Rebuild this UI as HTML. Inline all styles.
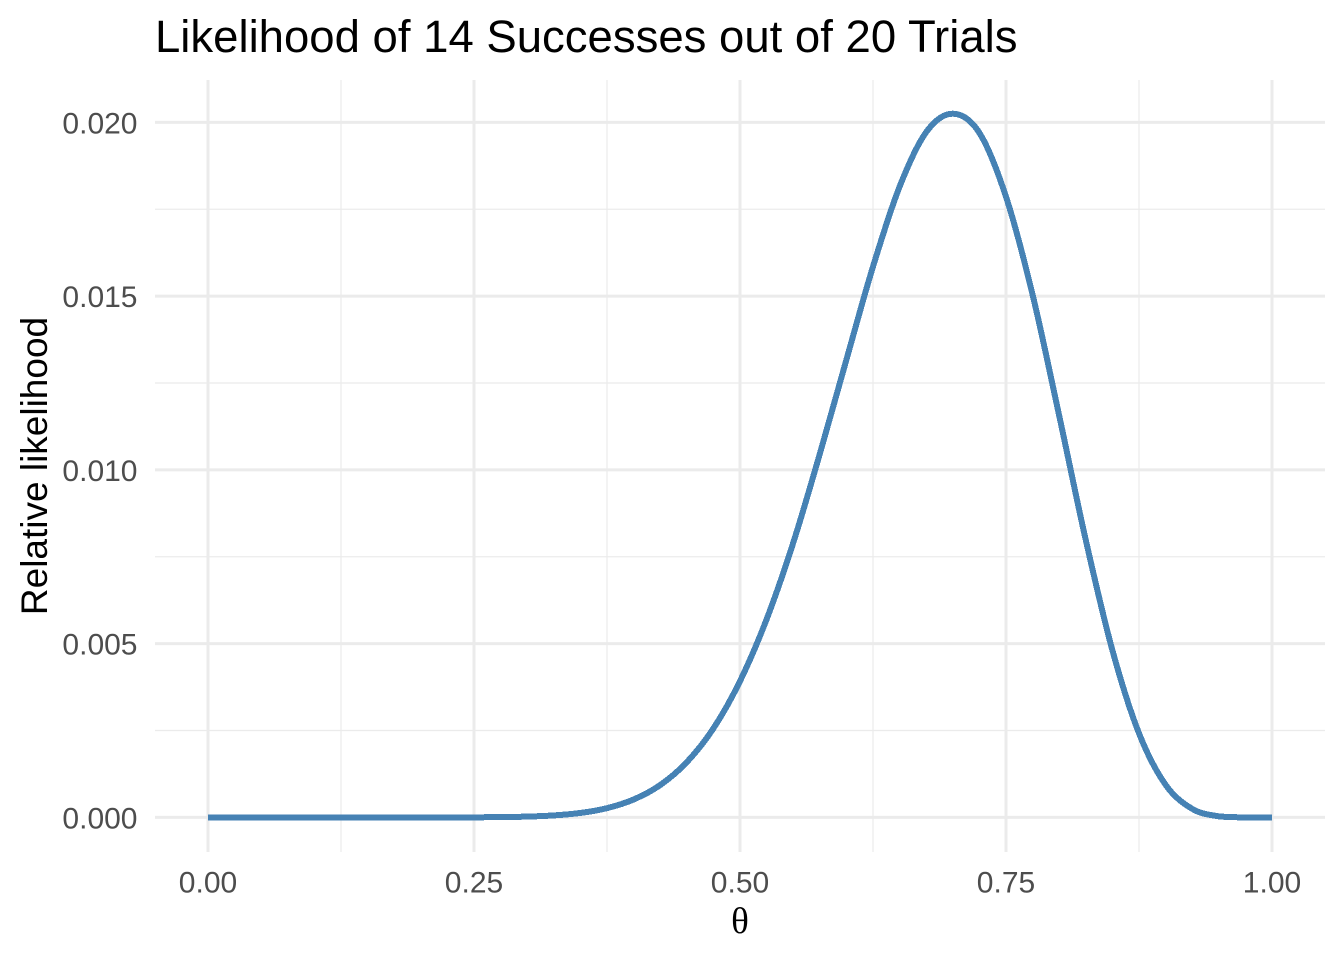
<!DOCTYPE html>
<html lang="en">
<head>
<meta charset="utf-8">
<title>Likelihood of 14 Successes out of 20 Trials</title>
<style>
html,body{margin:0;padding:0;background:#fff;width:1344px;height:960px;overflow:hidden}
svg{display:block}
text{font-family:"Liberation Sans",Arial,sans-serif}
</style>
</head>
<body>
<svg id="chart" xmlns="http://www.w3.org/2000/svg" width="1344" height="960" viewBox="0 0 1344 960">
  <rect x="0" y="0" width="1344" height="960" fill="#ffffff"/>
  <g id="grid"></g>
  <g id="ticks"></g>
  <path id="curve" fill="none" stroke="#4682b4" stroke-width="6" stroke-linejoin="round" stroke-linecap="butt" shape-rendering="crispEdges"/>
  <text x="155" y="52" font-size="45.5" fill="#000">Likelihood of 14 Successes out of 20 Trials</text>
  <text transform="translate(47,466) rotate(-90)" text-anchor="middle" font-size="37" fill="#000">Relative likelihood</text>
  <text x="740" y="933" text-anchor="middle" font-size="37" fill="#000" style="font-family:'Liberation Serif',serif">θ</text>
</svg>
<script>
const thetas = [0,0.025,0.05,0.075,0.1,0.125,0.15,0.175,0.2,0.225,0.25,0.275,0.3,0.325,0.35,0.375,0.4,0.425,0.45,0.475,0.5,0.525,0.55,0.575,0.6,0.625,0.65,0.675,0.7,0.725,0.75,0.775,0.8,0.825,0.85,0.875,0.9,0.925,0.95,0.975,1];
const likelihoods = [0,0,0,0,0,0,0.000000005,0.000000033,0.000000176,0.00000076,0.00000272,0.00000843,0.0000231,0.000057,0.000128,0.000266,0.000515,0.000931,0.001589,0.00256,0.00392,0.0057,0.0079,0.01046,0.01317,0.01585,0.01815,0.01972,0.02025,0.0197,0.01786,0.01504,0.01156,0.00798,0.00481,0.00242,0.000939,0.000246,0.0000313,0.0000007,0];
const xMajorTicks = [0,0.25,0.5,0.75,1];
const xMinorTicks = [0.125,0.375,0.625,0.875];
const xTickLabels = ["0.00","0.25","0.50","0.75","1.00"];
const yMajorTicks = [0,0.005,0.01,0.015,0.02];
const yMinorTicks = [0.0025,0.0075,0.0125,0.0175];
const yTickLabels = ["0.000","0.005","0.010","0.015","0.020"];

const NS = 'http://www.w3.org/2000/svg';
const panel = {left:155, right:1325, top:80, bottom:852};
const xScale = v => 208 + v * 1064;
const yScale = v => 817.4 - v * 34750;
const gridGroup = document.getElementById('grid');
const tickGroup = document.getElementById('ticks');

function gridLine(x1, y1, x2, y2, width) {
  const l = document.createElementNS(NS, 'line');
  l.setAttribute('x1', x1);
  l.setAttribute('y1', y1);
  l.setAttribute('x2', x2);
  l.setAttribute('y2', y2);
  l.setAttribute('stroke', '#ebebeb');
  l.setAttribute('stroke-width', width);
  gridGroup.appendChild(l);
  return l;
}
function tickText(x, y, anchor, str) {
  const t = document.createElementNS(NS, 'text');
  t.setAttribute('x', x);
  t.setAttribute('y', y);
  t.setAttribute('text-anchor', anchor);
  t.setAttribute('font-size', '30');
  t.setAttribute('fill', '#4d4d4d');
  t.textContent = str;
  tickGroup.appendChild(t);
  return t;
}
yMinorTicks.forEach(v => {
  const l = gridLine(panel.left, yScale(v), panel.right, yScale(v), 1.2);
  
  
});
xMinorTicks.forEach(v => {
  const l = gridLine(xScale(v), panel.top, xScale(v), panel.bottom, 1.2);
  
  
});
yMajorTicks.forEach((v, i) => {
  const l = gridLine(panel.left, yScale(v), panel.right, yScale(v), 3);
  
  
  const t = tickText(137.5, yScale(v) + 11, 'end', yTickLabels[i]);
  
  
});
xMajorTicks.forEach((v, i) => {
  const l = gridLine(xScale(v), panel.top, xScale(v), panel.bottom, 3);
  
  
  const t = tickText(xScale(v), 892.5, 'middle', xTickLabels[i]);
  
  
});

const pts = thetas.map((t, i) => [xScale(t), yScale(likelihoods[i])]);
let d = 'M' + pts[0][0].toFixed(2) + ' ' + pts[0][1].toFixed(2);
for (let i = 0; i < pts.length - 1; i++) {
  const p0 = pts[Math.max(i - 1, 0)], p1 = pts[i], p2 = pts[i + 1], p3 = pts[Math.min(i + 2, pts.length - 1)];
  const c1x = p1[0] + (p2[0] - p0[0]) / 6, c1y = Math.min(p1[1] + (p2[1] - p0[1]) / 6, yScale(0));
  const c2x = p2[0] - (p3[0] - p1[0]) / 6, c2y = Math.min(p2[1] - (p3[1] - p1[1]) / 6, yScale(0));
  d += 'C' + c1x.toFixed(2) + ' ' + c1y.toFixed(2) + ' ' + c2x.toFixed(2) + ' ' + c2y.toFixed(2) + ' ' + p2[0].toFixed(2) + ' ' + p2[1].toFixed(2);
}
document.getElementById('curve').setAttribute('d', d);
</script>
</body>
</html>
